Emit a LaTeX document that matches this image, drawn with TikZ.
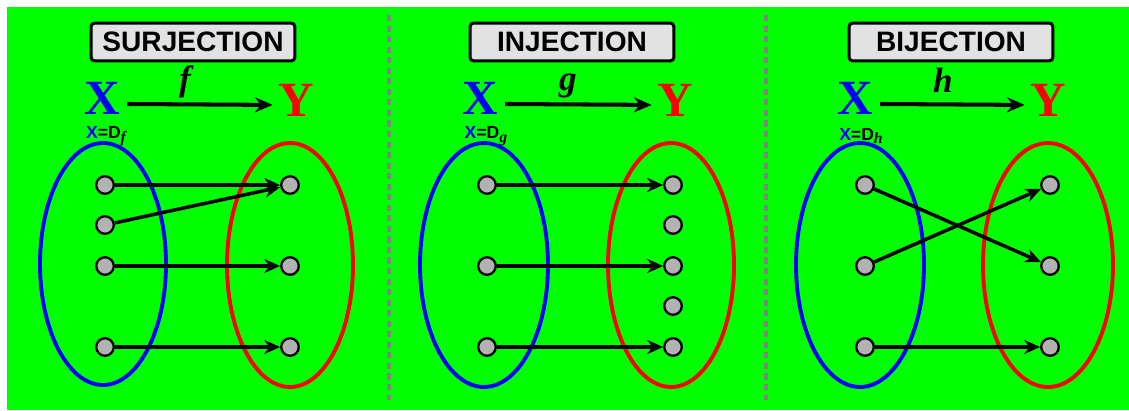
\documentclass[tikz,border=0pt]{standalone}
\usepackage{fontspec}
\setmainfont{Liberation Serif}
\setsansfont{Liberation Sans}
\usetikzlibrary{arrows.meta}
\definecolor{bg}{RGB}{0,255,0}
\definecolor{dotgray}{RGB}{178,178,178}
\definecolor{boxgray}{RGB}{226,226,226}
\definecolor{divgray}{RGB}{130,130,130}
\begin{document}
\begin{tikzpicture}[x=0.02cm,y=-0.02cm,
  dot/.style={circle,draw=black,fill=dotgray,line width=1.3pt,minimum size=10pt,inner sep=0pt},
  titlebox/.style={draw=black,fill=boxgray,line width=1.7pt,rounded corners=2pt,minimum width=116pt,minimum height=21.5pt,inner sep=0pt,font=\sffamily\bfseries\fontsize{16}{16}\selectfont},
  setx/.style={text=blue,font=\bfseries\fontsize{28}{28}\selectfont,inner sep=0pt},
  sety/.style={text=red,font=\bfseries\fontsize{28}{28}\selectfont,inner sep=0pt},
  maparrow/.style={line width=2.3pt,-{Stealth[length=10pt,width=8.5pt]}},
  fname/.style={font=\bfseries\itshape\fontsize{20}{20}\selectfont},
  domlab/.style={font=\sffamily\bfseries\fontsize{10}{10}\selectfont,inner sep=0pt},
  conn/.style={line width=2pt,-{Stealth[length=9pt,width=8pt]}},
  setA/.style={draw=blue,line width=2.2pt},
  setB/.style={draw=red,line width=2.2pt},
  divider/.style={draw=divgray,line width=1.8pt,dash pattern=on 3.5pt off 2.5pt}]
\fill[white] (0,0) rectangle (1129,410);
\fill[bg] (7,7) rectangle (1129,410);
\draw[divider] (389,15) -- (389,400);
\draw[divider] (766,15) -- (766,400);
% ---------- Panel 1: surjection
\node[titlebox] (t1) at (193,42) {SURJECTION};
\node[setx] (x1) at (102,98) {X};
\node[sety] (y1) at (296,100) {Y};
\draw[maparrow] ([xshift=4pt,yshift=-3.4pt]x1.east) -- ([xshift=-3pt,yshift=-2.8pt]y1.west);
\node[fname] (f1) at (185,82) {f};
\node[domlab] (d1) at (106,136) {\textcolor{blue}{X}=D\raisebox{-2pt}{\rmfamily\itshape\fontsize{9}{9}\selectfont f}};
\draw[setA] (103,264) ellipse [x radius=1.26cm, y radius=2.42cm];
\draw[setB] (290,265) ellipse [x radius=1.26cm, y radius=2.44cm];
\node[dot] (a1) at (105,185) {};
\node[dot] (a2) at (105,225) {};
\node[dot] (a3) at (105,266) {};
\node[dot] (a4) at (105,347) {};
\node[dot] (b1) at (290,185) {};
\node[dot] (b2) at (290,266) {};
\node[dot] (b3) at (290,347) {};
\draw[conn] (a1) -- (b1);
\draw[conn] (a2) -- (b1);
\draw[conn] (a3) -- (b2);
\draw[conn] (a4) -- (b3);
% ---------- Panel 2: injection
\node[titlebox] (t2) at (572,42) {INJECTION};
\node[setx] (x2) at (480,98) {X};
\node[sety] (y2) at (675,100) {Y};
\draw[maparrow] ([xshift=4pt,yshift=-3.4pt]x2.east) -- ([xshift=-3pt,yshift=-2.8pt]y2.west);
\node[fname] (f2) at (568,86) {g};
\node[domlab] (d2) at (486,136) {\textcolor{blue}{X}=D\raisebox{-2pt}{\rmfamily\itshape\fontsize{9}{9}\selectfont g}};
\draw[setA] (484,265) ellipse [x radius=1.28cm, y radius=2.44cm];
\draw[setB] (671,265) ellipse [x radius=1.26cm, y radius=2.44cm];
\node[dot] (c1) at (487,185) {};
\node[dot] (c2) at (487,266) {};
\node[dot] (c3) at (487,347) {};
\node[dot] (e1) at (673,185) {};
\node[dot] (e2) at (673,225) {};
\node[dot] (e3) at (673,266) {};
\node[dot] (e4) at (673,306) {};
\node[dot] (e5) at (673,347) {};
\draw[conn] (c1) -- (e1);
\draw[conn] (c2) -- (e3);
\draw[conn] (c3) -- (e5);
% ---------- Panel 3: bijection
\node[titlebox] (t3) at (951,42) {BIJECTION};
\node[setx] (x3) at (855,98) {X};
\node[sety] (y3) at (1048,100) {Y};
\draw[maparrow] ([xshift=4pt,yshift=-3.4pt]x3.east) -- ([xshift=-3pt,yshift=-2.8pt]y3.west);
\node[fname] (f3) at (943,80) {h};
\node[domlab] (d3) at (861,136) {\textcolor{blue}{X}=D\raisebox{-2pt}{\rmfamily\itshape\fontsize{9}{9}\selectfont h}};
\draw[setA] (860,265) ellipse [x radius=1.28cm, y radius=2.44cm];
\draw[setB] (1048,265) ellipse [x radius=1.30cm, y radius=2.44cm];
\node[dot] (g1) at (865,185) {};
\node[dot] (g2) at (865,266) {};
\node[dot] (g3) at (865,347) {};
\node[dot] (h1) at (1050,185) {};
\node[dot] (h2) at (1050,266) {};
\node[dot] (h3) at (1050,347) {};
\draw[conn] (g1) -- (h2);
\draw[conn] (g2) -- (h1);
\draw[conn] (g3) -- (h3);
\end{tikzpicture}
\end{document}
